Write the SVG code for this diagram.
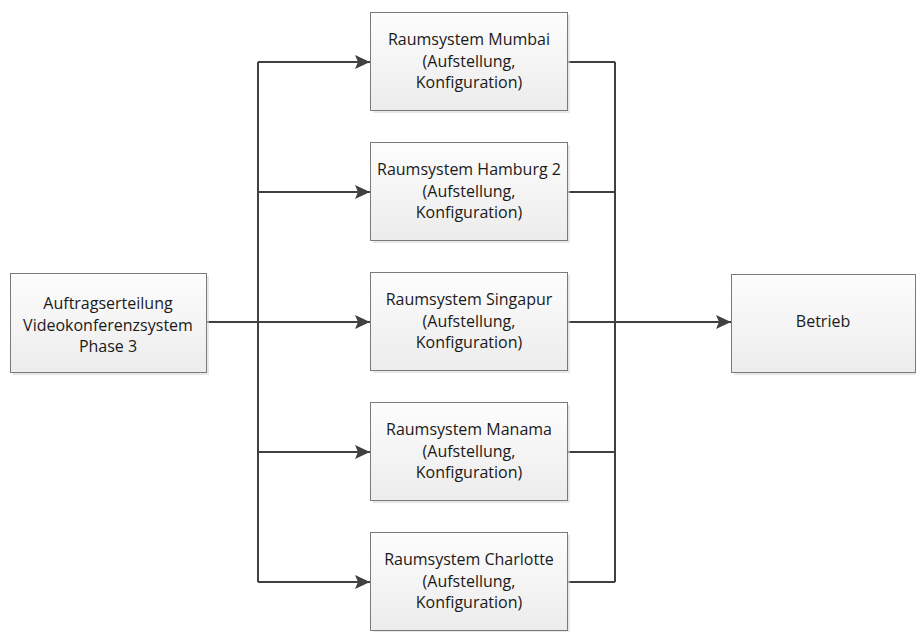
<svg xmlns="http://www.w3.org/2000/svg" width="916" height="632" viewBox="0 0 916 632">
<defs>
<linearGradient id="g" x1="0" y1="0" x2="0" y2="1">
<stop offset="0" stop-color="#fdfdfd"/>
<stop offset="1" stop-color="#ececec"/>
</linearGradient>
<marker id="arr" viewBox="0 0 15 14" refX="15" refY="7" markerWidth="15" markerHeight="14" markerUnits="userSpaceOnUse" orient="auto">
<path d="M0,0 L15,7 L0,14 L3,7 Z" fill="#404040"/>
</marker>
</defs>
<style>
.box{fill:url(#g);stroke:#7a7a7a;stroke-width:1}
.sh{fill:#d9d9d9;opacity:0.6}
.t{font-family:"Open Sans","Liberation Sans",sans-serif;font-size:16px;fill:#1a1a1a;text-anchor:middle}
.c{fill:none;stroke:#404040;stroke-width:2}
</style>
<g id="connectors">
<path class="c" d="M206,322 H258"/>
<path class="c" d="M258,62 V582"/>
<path class="c" d="M258,62 H370" marker-end="url(#arr)"/>
<path class="c" d="M258,192 H370" marker-end="url(#arr)"/>
<path class="c" d="M258,322 H370" marker-end="url(#arr)"/>
<path class="c" d="M258,452 H370" marker-end="url(#arr)"/>
<path class="c" d="M258,582 H370" marker-end="url(#arr)"/>
<path class="c" d="M567,62 H615 M567,192 H615 M567,322 H615 M567,452 H615 M567,582 H615"/>
<path class="c" d="M615,62 V582"/>
<path class="c" d="M615,322 H731" marker-end="url(#arr)"/>
</g>
<g id="auftrag">
<rect class="sh" x="13" y="276" width="196" height="99"/>
<rect class="box" x="10.5" y="273.5" width="196" height="99"/>
<text class="t" x="108" y="309">Auftragserteilung</text>
<text class="t" x="108" y="331">Videokonferenzsystem</text>
<text class="t" x="108" y="352">Phase 3</text>
</g>
<g id="mumbai">
<rect class="sh" x="373" y="15" width="197" height="98"/>
<rect class="box" x="370.5" y="12.5" width="197" height="98"/>
<text class="t" x="469" y="45">Raumsystem Mumbai</text>
<text class="t" x="469" y="67">(Aufstellung,</text>
<text class="t" x="469" y="88">Konfiguration)</text>
</g>
<g id="hamburg">
<rect class="sh" x="373" y="145" width="197" height="98"/>
<rect class="box" x="370.5" y="142.5" width="197" height="98"/>
<text class="t" x="469" y="175">Raumsystem Hamburg 2</text>
<text class="t" x="469" y="197">(Aufstellung,</text>
<text class="t" x="469" y="218">Konfiguration)</text>
</g>
<g id="singapur">
<rect class="sh" x="373" y="275" width="197" height="98"/>
<rect class="box" x="370.5" y="272.5" width="197" height="98"/>
<text class="t" x="469" y="305">Raumsystem Singapur</text>
<text class="t" x="469" y="327">(Aufstellung,</text>
<text class="t" x="469" y="348">Konfiguration)</text>
</g>
<g id="manama">
<rect class="sh" x="373" y="405" width="197" height="98"/>
<rect class="box" x="370.5" y="402.5" width="197" height="98"/>
<text class="t" x="469" y="435">Raumsystem Manama</text>
<text class="t" x="469" y="457">(Aufstellung,</text>
<text class="t" x="469" y="478">Konfiguration)</text>
</g>
<g id="charlotte">
<rect class="sh" x="373" y="535" width="197" height="98"/>
<rect class="box" x="370.5" y="532.5" width="197" height="98"/>
<text class="t" x="469" y="565">Raumsystem Charlotte</text>
<text class="t" x="469" y="587">(Aufstellung,</text>
<text class="t" x="469" y="608">Konfiguration)</text>
</g>
<g id="betrieb">
<rect class="sh" x="734" y="277" width="184" height="98"/>
<rect class="box" x="731.5" y="274.5" width="184" height="98"/>
<text class="t" x="823" y="327">Betrieb</text>
</g>
</svg>
